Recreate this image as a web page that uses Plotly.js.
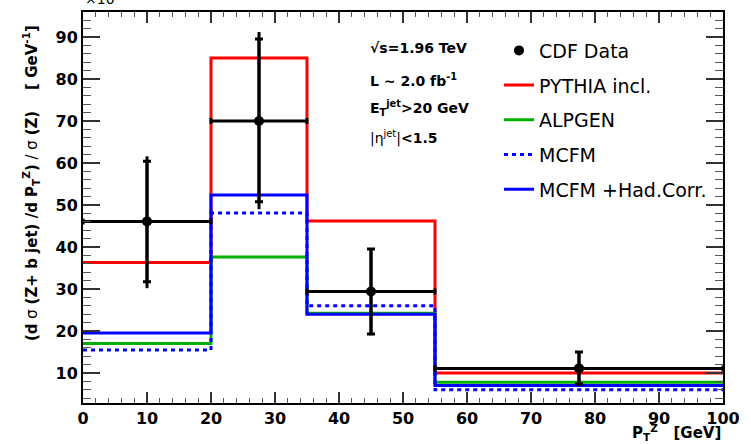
<!DOCTYPE html>
<html>
<head>
<meta charset="utf-8">
<script src="https://cdn.plot.ly/plotly-3.0.1.min.js"></script>
<style>html,body{margin:0;padding:0;background:#fff;}#chart{width:751px;height:444px;}</style>
</head>
<body>
<div id="chart"></div>
<script>
// Bin edges in P_T^Z [GeV]
const binEdges = [0, 20, 35, 55, 100];
// Theory predictions per bin (x 10^-3 GeV^-1)
const pythia  = [36.3, 85.0, 46.2, 10.0];
const alpgen  = [17.0, 37.6, 24.2, 7.8];
const mcfm    = [15.5, 48.1, 26.0, 6.0];
const mcfmHad = [19.5, 52.4, 24.0, 7.0];
// CDF data
const dataX      = [10, 27.5, 45, 77.5];
const dataY      = [46.1, 70.0, 29.4, 11.1];
const statErrUp  = [14.3, 19.5, 10.1, 3.9];
const statErrDn  = [14.4, 19.2, 10.1, 3.7];
const totErrUp   = [15.5, 21.2, 10.3, 4.1];
const totErrDn   = [15.9, 21.0, 10.4, 3.9];

const stepY = v => v.concat([v[v.length - 1]]);
const xPlus  = dataX.map((x, i) => binEdges[i + 1] - x);
const xMinus = dataX.map((x, i) => x - binEdges[i]);

function hist(name, vals, color, dash, rank) {
  return {
    x: binEdges, y: stepY(vals), type: 'scatter', mode: 'lines', name: name,
    legendgroup: 'g' + rank,
    line: {shape: 'hv', color: color, width: 3, dash: dash || 'solid'},
    legendrank: rank, hoverinfo: 'skip'
  };
}

const traces = [
  hist('PYTHIA incl.', pythia, '#ff0000', null, 2),
  hist('ALPGEN', alpgen, '#00b000', null, 3),
  hist('MCFM', mcfm, '#0000ff', '4px,4px', 4),
  hist('MCFM +Had.Corr.', mcfmHad, '#0000ff', null, 5),
  {
    x: dataX, y: dataY, type: 'scatter', mode: 'markers', showlegend: false,
    legendgroup: 'g1',
    marker: {color: '#000', size: 1},
    error_y: {type: 'data', symmetric: false, array: totErrUp, arrayminus: totErrDn, color: '#000', thickness: 3, width: 0},
    hoverinfo: 'skip'
  },
  {
    x: dataX, y: dataY, type: 'scatter', mode: 'markers', name: 'CDF Data',
    legendgroup: 'g1',
    marker: {color: '#000', size: 10, symbol: 'circle'},
    error_y: {type: 'data', symmetric: false, array: statErrUp, arrayminus: statErrDn, color: '#000', thickness: 3, width: 4},
    error_x: {type: 'data', symmetric: false, array: xPlus, arrayminus: xMinus, color: '#000', thickness: 3, width: 3},
    legendrank: 1
  }
];

const tickFont = {family: 'DejaVu Sans', size: 16, color: '#000', weight: 'bold'};
const boldTxt = {family: 'DejaVu Sans', size: 14, color: '#000'};

const layout = {
  width: 751, height: 444,
  margin: {l: 83, r: 28, t: 12, b: 41},
  paper_bgcolor: '#fff', plot_bgcolor: '#fff',
  showlegend: true,
  legend: {
    x: 0.65, y: 0.95, xanchor: 'left', yanchor: 'top',
    font: {family: 'DejaVu Sans', size: 19, color: '#000'},
    bgcolor: 'rgba(0,0,0,0)', borderwidth: 0,
    tracegroupgap: 7
  },
  xaxis: {
    range: [0, 100], dtick: 10, tick0: 0,
    ticks: 'inside', ticklen: 11, tickwidth: 1.5, tickcolor: '#333',
    minor: {dtick: 2, ticklen: 5, tickwidth: 1, tickcolor: '#555', ticks: 'inside'},
    showline: true, linecolor: '#000', linewidth: 2, mirror: 'allticks',
    showgrid: false, zeroline: false,
    tickfont: tickFont
  },
  yaxis: {
    range: [2.86, 95.95], dtick: 10, tick0: 0,
    ticks: 'inside', ticklen: 17, tickwidth: 1.5, tickcolor: '#333',
    minor: {dtick: 2, ticklen: 8, tickwidth: 1, tickcolor: '#555', ticks: 'inside'},
    showline: true, linecolor: '#000', linewidth: 2, mirror: 'allticks',
    showgrid: false, zeroline: false,
    tickfont: tickFont
  },
  annotations: [
    {xref: 'paper', yref: 'paper', x: -0.081, y: 0.563, xanchor: 'center', yanchor: 'middle',
     textangle: -90, showarrow: false,
     text: '<b>(d</b> σ <b>(Z+ b jet) /d P<sub>T</sub><sup>Z</sup>)</b> / σ <b>(Z)    [ GeV<sup>-1</sup>]</b>',
     font: {family: 'DejaVu Sans', size: 15, color: '#000'}},
    {xref: 'paper', yref: 'paper', x: 1.0, y: -0.076, xanchor: 'right', yanchor: 'middle', showarrow: false,
     text: '<b>P<sub>T</sub><sup>Z</sup>   [GeV]</b>', font: {family: 'DejaVu Sans', size: 15, color: '#000'}},
    {xref: 'paper', yref: 'paper', x: 0.0, y: 1.035, xanchor: 'left', yanchor: 'middle', showarrow: false,
     text: '×10<sup>-3</sup>', font: {family: 'DejaVu Sans', size: 14, color: '#000'}},
    {xref: 'paper', yref: 'paper', x: 0.445, y: 0.908, xanchor: 'left', yanchor: 'middle', showarrow: false,
     text: '<b>√s=1.96 TeV</b>', font: boldTxt},
    {xref: 'paper', yref: 'paper', x: 0.445, y: 0.826, xanchor: 'left', yanchor: 'middle', showarrow: false,
     text: '<b>L ~ 2.0 fb<sup>-1</sup></b>', font: boldTxt},
    {xref: 'paper', yref: 'paper', x: 0.445, y: 0.754, xanchor: 'left', yanchor: 'middle', showarrow: false,
     text: '<b>E<sub>T</sub><sup>jet</sup>>20 GeV</b>', font: boldTxt},
    {xref: 'paper', yref: 'paper', x: 0.445, y: 0.680, xanchor: 'left', yanchor: 'middle', showarrow: false,
     text: '|η<sup>jet</sup>|<b><1.5</b>', font: boldTxt}
  ]
};

Plotly.newPlot('chart', traces, layout, {staticPlot: true, displayModeBar: false});
</script>
</body>
</html>
